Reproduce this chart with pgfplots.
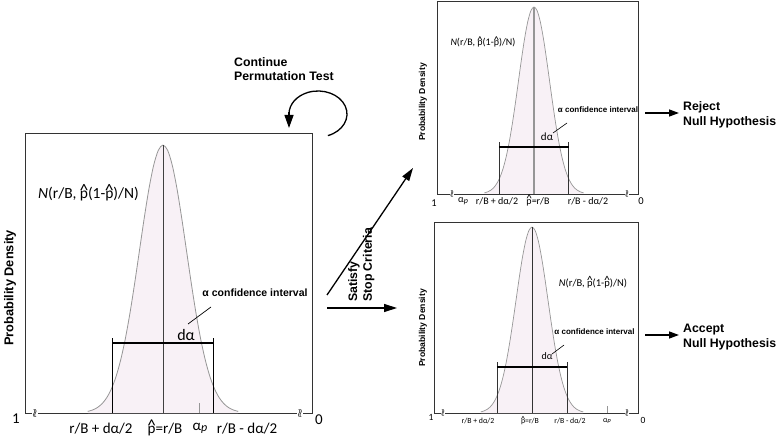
\documentclass[border=0pt]{standalone}
\usepackage{fontspec}
\setmainfont{Carlito}
\newfontfamily\arial{Liberation Sans}
\usepackage{graphicx}
\usepackage{pgfplots}
\pgfplotsset{compat=1.18}
\usepackage{pgfplotstable}
\usetikzlibrary{arrows.meta}

\definecolor{fillc}{RGB}{248,241,246}
\definecolor{curvec}{RGB}{150,150,150}

\newcommand\fs[1]{\fontsize{#1}{#1}\selectfont}
\newcommand\bfa[1]{\arial\bfseries\fontsize{#1}{1.2\dimexpr#1pt\relax}\selectfont}
\newcommand\phat{\leavevmode\ooalign{p\cr\hidewidth\raisebox{0.3ex}{\scalebox{1.15}{\textasciicircum}}\hidewidth\cr}}
\newcommand\ap{α\raisebox{-0.1ex}{\scalebox{0.8}{\textit{p}}}}
\newcommand\brk[1]{{\fontsize{#1}{#1}\selectfont$\wr\!\wr$}}

\pgfplotstableread{
x y
-3.2 0.0060
-3.0 0.0111
-2.8 0.0198
-2.6 0.0340
-2.4 0.0561
-2.2 0.0889
-2.0 0.1353
-1.8 0.1979
-1.6 0.2780
-1.4 0.3753
-1.2 0.4868
-1.0 0.6065
-0.8 0.7261
-0.6 0.8353
-0.4 0.9231
-0.2 0.9802
0.0 1.0000
0.2 0.9802
0.4 0.9231
0.6 0.8353
0.8 0.7261
1.0 0.6065
1.2 0.4868
1.4 0.3753
1.6 0.2780
1.8 0.1979
2.0 0.1353
2.2 0.0889
2.4 0.0561
2.6 0.0340
2.8 0.0198
3.0 0.0111
3.2 0.0060
}\gauss

\pgfplotsset{diag/.style={scale only axis, anchor=north west, ticks=none,
  axis line style={black!80, line width=0.7pt}, ymin=0, clip=false}}

\begin{document}
\begin{tikzpicture}[x=1pt,y=-1pt,every node/.style={inner sep=1pt}]
\useasboundingbox (0,0) rectangle (778,438);

% ---------------- main axis ----------------
\begin{axis}[diag, at={(25pt,-133pt)}, width=287pt, height=280pt,
  xmin=-5.87, xmax=6.34, ymax=1.045]
\addplot[fill=fillc, draw=none] table {\gauss} \closedcycle;
\addplot[curvec, line width=0.8pt, smooth] table {\gauss};
\addplot[black!75, line width=0.6pt] coordinates {(0,0) (0,1)};
\addplot[black, line width=1pt] coordinates {(-2.13,0) (-2.13,0.28)};
\addplot[black, line width=1pt] coordinates {(2.13,0) (2.13,0.28)};
\addplot[black, line width=1.8pt] coordinates {(-2.13,0.26) (2.13,0.26)};
\addplot[curvec, line width=1pt] coordinates {(1.57,0) (1.57,0.037)};
\node[fill=white, inner sep=0.3pt] at (axis cs:-5.45,0) {\brk{12}};
\node[fill=white, inner sep=0.3pt] at (axis cs:5.83,0) {\brk{12}};
\end{axis}

% ---------------- top-right axis ----------------
\begin{axis}[diag, at={(437pt,-1pt)}, width=201pt, height=193pt,
  xmin=-6.26, xmax=6.71, ymax=1.032]
\addplot[fill=fillc, draw=none] table {\gauss} \closedcycle;
\addplot[curvec, line width=0.7pt, smooth] table {\gauss};
\addplot[curvec, line width=1.3pt] coordinates {(0,0) (0,1)};
\addplot[black!80, line width=0.9pt] coordinates {(-2.23,0) (-2.23,0.278)};
\addplot[black!80, line width=0.9pt] coordinates {(2.23,0) (2.23,0.278)};
\addplot[black, line width=1.5pt] coordinates {(-2.23,0.251) (2.23,0.251)};
\node[fill=white, inner sep=0.3pt] at (axis cs:-5.29,0) {\brk{10}};
\node[fill=white, inner sep=0.3pt] at (axis cs:6.0,0) {\brk{10}};
\end{axis}

% ---------------- bottom-right axis ----------------
\begin{axis}[diag, at={(434pt,-222pt)}, width=204pt, height=191pt,
  xmin=-6.125, xmax=6.625, ymax=1.027]
\addplot[fill=fillc, draw=none] table {\gauss} \closedcycle;
\addplot[curvec, line width=0.7pt, smooth] table {\gauss};
\addplot[black!80, line width=0.6pt] coordinates {(0,0) (0,1)};
\addplot[black!80, line width=0.9pt] coordinates {(-2.19,0) (-2.19,0.274)};
\addplot[black!80, line width=0.9pt] coordinates {(2.19,0) (2.19,0.274)};
\addplot[black, line width=1.5pt] coordinates {(-2.19,0.247) (2.19,0.247)};
\addplot[curvec, line width=0.9pt] coordinates {(4.69,0) (4.69,0.04)};
\node[fill=white, inner sep=0.3pt] at (axis cs:-5.56,0) {\brk{10}};
\node[fill=white, inner sep=0.3pt] at (axis cs:5.94,0) {\brk{10}};
\end{axis}

% ---------------- main texts ----------------
\node[rotate=90, font=\bfa{12.8}] at (10,288) {Probability Density};
\node[anchor=west, font=\fs{15.5}] at (37,194) {\textit{N}(r/B, \phat(1-\phat)/N)};
\node[font=\bfa{10.5}] at (255,293) {α confidence interval};
\draw[black, line width=0.7pt] (211,307) -- (188,324);
\node[font=\fs{16}] at (186,335) {dα};
\node[font=\fs{15}] at (16,419) {1};
\node[font=\fs{15}] at (319,420) {0};
\node[font=\fs{15}] at (101,428.5) {r/B + dα/2};
\node[font=\fs{15}] at (165,428.5) {\phat=r/B};
\node[font=\fs{15}] at (200,428.5) {\ap};
\node[font=\fs{15}] at (247,428.5) {r/B - dα/2};

% ---------------- top-right texts ----------------
\node[rotate=90, font=\bfa{8.6}] at (423,102) {Probability Density};
\node[font=\fs{10}] at (483,43) {\textit{N}(r/B, \phat(1-\phat)/N)};
\node[font=\bfa{8}] at (598,110) {α confidence interval};
\draw[black, line width=0.6pt] (567,123) -- (553,133);
\node[font=\fs{11}] at (547,137) {dα};
\node[font=\fs{10.5}] at (434,203) {1};
\node[font=\fs{10.5}] at (641,201) {0};
\node[font=\fs{10}] at (463,201) {\ap};
\node[font=\fs{10}] at (497,201) {r/B + dα/2};
\node[font=\fs{10}] at (538,201) {\phat=r/B};
\node[font=\fs{10}] at (588,201) {r/B - dα/2};
\draw[-{Triangle[length=10pt,width=7pt]}, line width=1.4pt] (645,113) -- (679,113);
\node[anchor=west, align=left, font=\bfa{12.3}] at (682,115) {Reject\\Null Hypothesis};

% ---------------- bottom-right texts ----------------
\node[rotate=90, font=\bfa{8.6}] at (423,328) {Probability Density};
\node[font=\fs{10.5}] at (593,283) {\textit{N}(r/B, \phat(1-\phat)/N)};
\node[font=\bfa{8}] at (594.5,332) {α confidence interval};
\draw[black, line width=0.6pt] (564,345) -- (552,354);
\node[font=\fs{10}] at (547,356) {dα};
\node[font=\fs{9.5}] at (431,417) {1};
\node[font=\fs{9.5}] at (643,420) {0};
\node[font=\fs{7.8}] at (478,421) {r/B + dα/2};
\node[font=\fs{7.8}] at (530,421) {\phat=r/B};
\node[font=\fs{7.8}] at (570,421) {r/B - dα/2};
\node[font=\fs{7.8}] at (607,421) {\ap};
\draw[-{Triangle[length=10pt,width=7pt]}, line width=1.4pt] (645,335) -- (679,335);
\node[anchor=west, align=left, font=\bfa{12.3}] at (682,337) {Accept\\Null Hypothesis};

% ---------------- flow annotations ----------------
\node[anchor=west, align=left, font=\bfa{12.3}] at (233,69) {Continue\\Permutation Test};
\draw[line width=1.3pt] (318,114) ++(70:29 and 23) arc[start angle=70, end angle=-180, x radius=29, y radius=23]
  -- ++(0,0.01);
\draw[-{Triangle[length=13pt,width=9pt]}, line width=1.3pt] (289,112) -- (289,128);
\draw[-{Triangle[length=13pt,width=8pt]}, line width=1.3pt] (327,295) -- (413,168);
\draw[-{Triangle[length=13pt,width=8pt]}, line width=1.3pt] (327,308) -- (397,308);
\node[rotate=90, anchor=north west, align=left, font=\bfa{12.3}] at (347,303) {Satisfy\\Stop Criteria};
\end{tikzpicture}
\end{document}
